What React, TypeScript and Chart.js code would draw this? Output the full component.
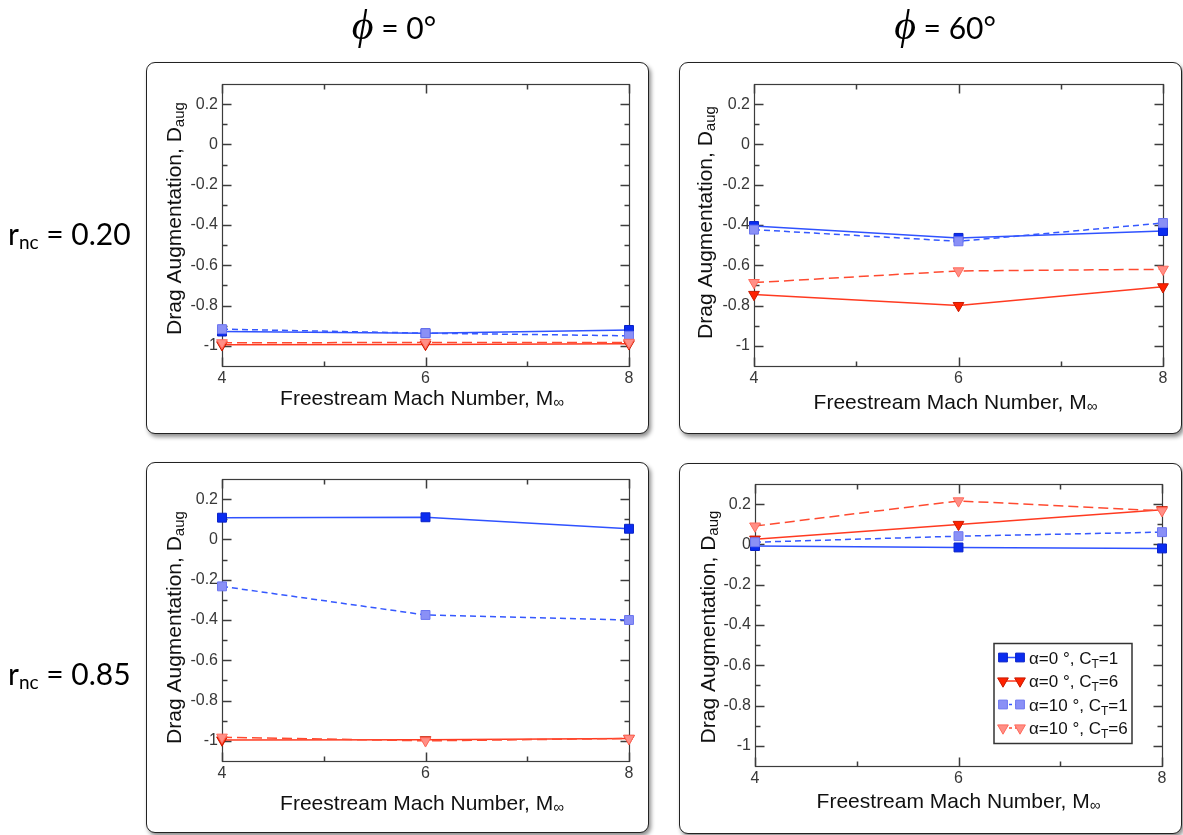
import React, { useEffect, useRef } from "react";
import { Chart, registerables } from "chart.js";

Chart.register(...registerables);

// ---------- data ----------
const machNumbers = [4, 6, 8];
const xMajorTicks = [4, 6, 8];
const xMinorTicks = [5, 7];
const yMajorTicks = [-1, -0.8, -0.6, -0.4, -0.2, 0, 0.2];
const yMinorTicks = [-0.9, -0.7, -0.5, -0.3, -0.1, 0.1];
const yMin = -1.1;
const yMax = 0.3;

const seriesNames = ["α=0°, CT=1", "α=0°, CT=6", "α=10°, CT=1", "α=10°, CT=6"];

// phi = 0°, r_nc = 0.20
const phi0r020_a0ct1 = [-0.929, -0.937, -0.921];
const phi0r020_a0ct6 = [-0.995, -0.993, -0.99];
const phi0r020_a10ct1 = [-0.917, -0.937, -0.95];
const phi0r020_a10ct6 = [-0.985, -0.983, -0.983];
// phi = 60°, r_nc = 0.20
const phi60r020_a0ct1 = [-0.405, -0.464, -0.43];
const phi60r020_a0ct6 = [-0.745, -0.8, -0.707];
const phi60r020_a10ct1 = [-0.423, -0.481, -0.39];
const phi60r020_a10ct6 = [-0.686, -0.628, -0.62];
// phi = 0°, r_nc = 0.85
const phi0r085_a0ct1 = [0.108, 0.11, 0.053];
const phi0r085_a0ct6 = [-0.996, -0.995, -0.988];
const phi0r085_a10ct1 = [-0.233, -0.375, -0.4];
const phi0r085_a10ct6 = [-0.982, -1.0, -0.988];
// phi = 60°, r_nc = 0.85
const phi60r085_a0ct1 = [-0.008, -0.015, -0.02];
const phi60r085_a0ct6 = [0.026, 0.099, 0.172];
const phi60r085_a10ct1 = [0.011, 0.041, 0.061];
const phi60r085_a10ct6 = [0.091, 0.216, 0.167];

// ---------- styles ----------
const FONT = "'Liberation Sans', Arial, Helvetica, sans-serif";

type SeriesStyle = { line: string; fill: string; stroke: string; shape: "rect" | "tri"; dash: number[] };
const seriesStyles: SeriesStyle[] = [
  { line: "#2f52ff", fill: "#0a2cf0", stroke: "#0922c8", shape: "rect", dash: [] },
  { line: "#ff3a20", fill: "#ff2200", stroke: "#c81a00", shape: "tri", dash: [] },
  { line: "#3558ff", fill: "#8a90f6", stroke: "#6c76f0", shape: "rect", dash: [6, 4] },
  { line: "#ff4a30", fill: "#ff8f86", stroke: "#ff6a5c", shape: "tri", dash: [10, 5] },
];

type Part = { t: string; sub?: boolean };
const legendParts: Part[][] = [
  [{ t: "α=0 °, C" }, { t: "T", sub: true }, { t: "=1" }],
  [{ t: "α=0 °, C" }, { t: "T", sub: true }, { t: "=6" }],
  [{ t: "α=10 °, C" }, { t: "T", sub: true }, { t: "=1" }],
  [{ t: "α=10 °, C" }, { t: "T", sub: true }, { t: "=6" }],
];
const yTitleParts: Part[] = [{ t: "Drag Augmentation, D" }, { t: "aug", sub: true }];
const xTitleParts: Part[] = [{ t: "Freestream Mach Number, M" }, { t: "∞", sub: true }];

type PanelDef = {
  x: number; y: number; w: number; h: number;
  area: { l: number; t: number; r: number; b: number };
  yTitle: { x: number; cy: number };
  xTitle: { cx: number; y: number };
  legend: boolean;
  values: number[][];
};

const panels: PanelDef[] = [
  {
    x: 146, y: 62, w: 503, h: 372,
    area: { l: 76, t: 22, r: 483, b: 304 },
    yTitle: { x: 35, cy: 156.5 }, xTitle: { cx: 276, y: 343 }, legend: false,
    values: [phi0r020_a0ct1, phi0r020_a0ct6, phi0r020_a10ct1, phi0r020_a10ct6],
  },
  {
    x: 679, y: 62, w: 503, h: 372,
    area: { l: 75, t: 22, r: 484, b: 304 },
    yTitle: { x: 32.5, cy: 160.5 }, xTitle: { cx: 276.5, y: 347 }, legend: false,
    values: [phi60r020_a0ct1, phi60r020_a0ct6, phi60r020_a10ct1, phi60r020_a10ct6],
  },
  {
    x: 146, y: 462, w: 503, h: 371,
    area: { l: 76, t: 17, r: 483, b: 299 },
    yTitle: { x: 35, cy: 165.5 }, xTitle: { cx: 276, y: 348 }, legend: false,
    values: [phi0r085_a0ct1, phi0r085_a0ct6, phi0r085_a10ct1, phi0r085_a10ct6],
  },
  {
    x: 679, y: 463, w: 503, h: 371,
    area: { l: 76, t: 21, r: 483, b: 303 },
    yTitle: { x: 36, cy: 164 }, xTitle: { cx: 279.5, y: 345 }, legend: true,
    values: [phi60r085_a0ct1, phi60r085_a0ct6, phi60r085_a10ct1, phi60r085_a10ct6],
  },
];

function drawParts(
  ctx: CanvasRenderingContext2D, parts: Part[], x: number, y: number,
  size: number, subSize: number, subDy: number, align: "center" | "left"
) {
  const fontOf = (p: Part) => `${p.sub ? subSize : size}px ${FONT}`;
  const widths = parts.map((p) => { ctx.font = fontOf(p); return ctx.measureText(p.t).width; });
  const total = widths.reduce((a, b) => a + b, 0);
  let cx = align === "center" ? x - total / 2 : x;
  ctx.textAlign = "left";
  ctx.textBaseline = "alphabetic";
  parts.forEach((p, i) => {
    ctx.font = fontOf(p);
    ctx.fillText(p.t, cx, y + (p.sub ? subDy : 0));
    cx += widths[i];
  });
}

function drawMarker(ctx: CanvasRenderingContext2D, s: SeriesStyle, x: number, y: number, r: number) {
  ctx.beginPath();
  if (s.shape === "rect") {
    const h = r * Math.SQRT1_2;
    ctx.rect(x - h, y - h, 2 * h, 2 * h);
  } else {
    const k = Math.sqrt(3) / 2;
    ctx.moveTo(x, y + r);
    ctx.lineTo(x - r * k, y - r / 2);
    ctx.lineTo(x + r * k, y - r / 2);
    ctx.closePath();
  }
  ctx.fillStyle = s.fill;
  ctx.fill();
  ctx.lineWidth = 1;
  ctx.strokeStyle = s.stroke;
  ctx.stroke();
}

function PanelChart({ p }: { p: PanelDef }) {
  const ref = useRef<HTMLCanvasElement>(null);
  useEffect(() => {
    const canvas = ref.current;
    if (!canvas) return;
    const YW = 50;
    const XH = 30;
    const decor = {
      id: "decor",
      beforeDatasetsDraw(chart: any) {
        const { ctx, chartArea: a } = chart;
        const xs = chart.scales.x;
        const ys = chart.scales.y;
        const l = Math.round(a.left) + 0.5;
        const r = Math.round(a.right) + 0.5;
        const t = Math.round(a.top) + 0.5;
        const b = Math.round(a.bottom) + 0.5;
        ctx.save();
        ctx.strokeStyle = "#3c3c3c";
        ctx.lineWidth = 1.2;
        ctx.strokeRect(l, t, r - l, b - t);
        ctx.lineWidth = 1.5;
        ctx.beginPath();
        const tickY = (v: number, len: number) => {
          const py = Math.round(ys.getPixelForValue(v)) + 0.5;
          ctx.moveTo(l, py); ctx.lineTo(l + len, py);
          ctx.moveTo(r, py); ctx.lineTo(r - len, py);
        };
        const tickX = (v: number, len: number) => {
          const px = Math.round(xs.getPixelForValue(v)) + 0.5;
          ctx.moveTo(px, t); ctx.lineTo(px, t + len);
          ctx.moveTo(px, b); ctx.lineTo(px, b - len);
        };
        yMajorTicks.forEach((v) => tickY(v, 9));
        yMinorTicks.forEach((v) => tickY(v, 5));
        xMajorTicks.forEach((v) => tickX(v, 9));
        xMinorTicks.forEach((v) => tickX(v, 5));
        ctx.stroke();
        ctx.restore();
      },
      afterDraw(chart: any) {
        const ctx: CanvasRenderingContext2D = chart.ctx;
        ctx.save();
        ctx.fillStyle = "#111";
        // y title
        ctx.save();
        ctx.translate(p.yTitle.x, p.yTitle.cy);
        ctx.rotate(-Math.PI / 2);
        drawParts(ctx, yTitleParts, 0, 0, 21, 15, 3, "center");
        ctx.restore();
        // x title
        drawParts(ctx, xTitleParts, p.xTitle.cx, p.xTitle.y, 21, 15, 2, "center");
        // legend
        if (p.legend) {
          const lx = 315, ly = 180.5, lw = 138, lh = 100;
          ctx.fillStyle = "#fff";
          ctx.fillRect(lx, ly, lw, lh);
          ctx.strokeStyle = "#333";
          ctx.lineWidth = 1.5;
          ctx.strokeRect(lx, ly, lw, lh);
          const rows = [194.5, 218, 241.5, 265];
          seriesStyles.forEach((s, i) => {
            const y = rows[i];
            ctx.save();
            ctx.strokeStyle = s.line;
            ctx.lineWidth = 1.5;
            ctx.setLineDash(s.dash.length ? [3, 3] : []);
            ctx.beginPath();
            ctx.moveTo(324, y); ctx.lineTo(341, y);
            ctx.stroke();
            ctx.restore();
            drawMarker(ctx, s, 324, y, 6.2);
            drawMarker(ctx, s, 341, y, 6.2);
            ctx.fillStyle = "#111";
            drawParts(ctx, legendParts[i], 350, y + 6, 17, 12, 4, "left");
          });
        }
        ctx.restore();
      },
    };
    const chart = new Chart(canvas, {
      type: "line",
      data: {
        datasets: p.values.map((vals, i) => {
          const s = seriesStyles[i];
          return {
            label: seriesNames[i],
            data: machNumbers.map((m, j) => ({ x: m, y: vals[j] })),
            borderColor: s.line,
            borderWidth: 1.5,
            borderDash: s.dash,
            backgroundColor: s.fill,
            pointStyle: s.shape === "rect" ? "rect" : "triangle",
            pointRotation: s.shape === "rect" ? 0 : 180,
            pointRadius: s.shape === "rect" ? 6.3 : 6.2,
            pointBackgroundColor: s.fill,
            pointBorderColor: s.stroke,
            pointBorderWidth: 1,
            fill: false,
            tension: 0,
            clip: false as any,
            order: 4 - i,
          };
        }),
      },
      options: {
        animation: false,
        responsive: false,
        maintainAspectRatio: false,
        events: [],
        layout: {
          padding: {
            left: p.area.l - YW,
            top: p.area.t,
            right: p.w - p.area.r,
            bottom: p.h - p.area.b - XH,
          },
        },
        plugins: { legend: { display: false }, tooltip: { enabled: false } },
        scales: {
          x: {
            type: "linear",
            min: 4,
            max: 8,
            afterBuildTicks: (s: any) => { s.ticks = xMajorTicks.map((v) => ({ value: v })); },
            afterFit: (s: any) => { s.height = XH; },
            grid: { display: false, drawTicks: false },
            border: { display: false },
            ticks: {
              padding: 3,
              color: "#383838",
              font: { family: FONT, size: 16 },
              maxRotation: 0,
              autoSkip: false,
              callback: (v: any) => String(v),
            },
          },
          y: {
            type: "linear",
            min: yMin,
            max: yMax,
            afterBuildTicks: (s: any) => { s.ticks = yMajorTicks.map((v) => ({ value: v })); },
            afterFit: (s: any) => { s.width = YW; },
            grid: { display: false, drawTicks: false },
            border: { display: false },
            ticks: {
              padding: 4,
              color: "#383838",
              font: { family: FONT, size: 16 },
              autoSkip: false,
              callback: (v: any) => String(Number(Number(v).toFixed(1))),
            },
          },
        },
      } as any,
      plugins: [decor],
    });
    return () => chart.destroy();
  }, [p]);
  return (
    <canvas
      ref={ref}
      width={p.w}
      height={p.h}
      style={{ position: "absolute", left: p.x, top: p.y, width: p.w, height: p.h, zIndex: 2 }}
    />
  );
}

export default function App() {
  return (
    <div style={{ position: "absolute", left: 0, top: 0, width: 1183, height: 835, background: "#fff", overflow: "hidden" }}>
      {panels.map((p, i) => (
        <div
          key={"box" + i}
          style={{
            position: "absolute",
            left: p.x,
            top: p.y,
            width: p.w,
            height: p.h,
            boxSizing: "border-box",
            border: "1.5px solid #222",
            borderRadius: 9,
            background: "#fff",
            boxShadow: "2px 3px 4px rgba(0,0,0,0.45)",
            zIndex: 1,
          }}
        />
      ))}
      {panels.map((p, i) => (
        <PanelChart key={"chart" + i} p={p} />
      ))}
      <svg width={1183} height={835} style={{ position: "absolute", left: 0, top: 0, zIndex: 3, pointerEvents: "none" }}>
        <text x={394} y={39} textAnchor="middle" fontFamily="Lato, 'Open Sans', sans-serif" fontSize={30} fill="#000">
          <tspan fontFamily="'Liberation Serif', 'DejaVu Serif', serif" fontStyle="italic" fontSize={42}>ϕ</tspan>
          <tspan> = 0°</tspan>
        </text>
        <text x={945} y={39} textAnchor="middle" fontFamily="Lato, 'Open Sans', sans-serif" fontSize={30} fill="#000">
          <tspan fontFamily="'Liberation Serif', 'DejaVu Serif', serif" fontStyle="italic" fontSize={42}>ϕ</tspan>
          <tspan> = 60°</tspan>
        </text>
        <text x={8} y={245} fontFamily="Lato, 'Open Sans', sans-serif" fontSize={30} fill="#000">
          <tspan>r</tspan>
          <tspan fontSize={19} dy={4}>nc</tspan>
          <tspan dy={-4}> = 0.20</tspan>
        </text>
        <text x={8} y={685} fontFamily="Lato, 'Open Sans', sans-serif" fontSize={30} fill="#000">
          <tspan>r</tspan>
          <tspan fontSize={19} dy={4}>nc</tspan>
          <tspan dy={-4}> = 0.85</tspan>
        </text>
      </svg>
    </div>
  );
}
